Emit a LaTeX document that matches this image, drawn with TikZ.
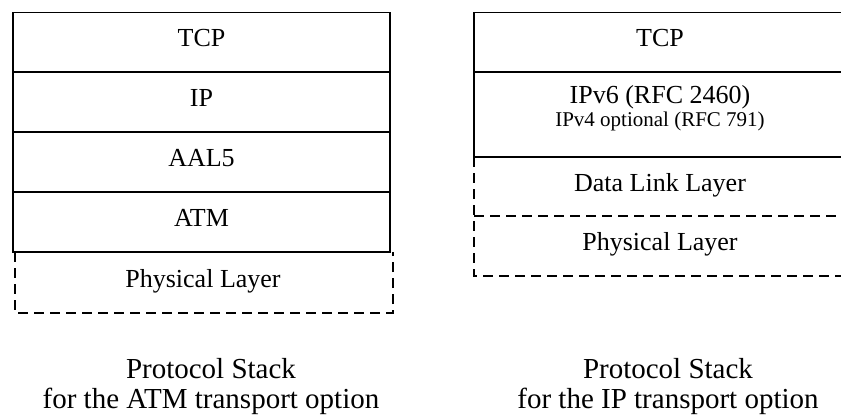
\documentclass[tikz,border=0pt]{standalone}
\usepackage{fontspec}
\setmainfont{Liberation Serif}
\begin{document}
\begin{tikzpicture}[x=1pt,y=-1pt,line width=1.2pt,
  solidline/.style={draw=black},
  dashline/.style={draw=black,dash pattern=on 10pt off 6pt},
  lay/.style={anchor=base,inner sep=0pt,font=\fontsize{26}{28}\selectfont},
  laysmall/.style={anchor=base,inner sep=0pt,font=\fontsize{21}{23}\selectfont},
  capt/.style={anchor=base,inner sep=0pt,font=\fontsize{29}{31}\selectfont}]
\useasboundingbox (0,0) rectangle (841,418);
% left stack
\coordinate (LTL) at (13,12.5);
\coordinate (LBR) at (390,252);
\draw[solidline] (LTL) rectangle (LBR);
\draw[solidline] (13,72) -- (390,72);
\draw[solidline] (13,132) -- (390,132);
\draw[solidline] (13,192) -- (390,192);
\draw[dashline] (15,252) -- (15,313) -- (393,313) -- (393,252);
\node[lay] (tcpA) at (201.5,46.5) {TCP};
\node[lay] (ipA) at (201.5,106.5) {IP};
\node[lay] (aalA) at (201.5,166.5) {AAL5};
\node[lay] (atmA) at (201.5,226.5) {ATM};
\node[lay] (phyA) at (203,287) {Physical Layer};
% right stack
\draw[solidline] (841,12.5) -- (474,12.5) -- (474,157) -- (841,157);
\draw[solidline] (474,72) -- (841,72);
\draw[dashline] (474,157) -- (474,276) -- (841,276);
\draw[dashline] (474,216) -- (841,216);
\node[lay] (tcpB) at (660,46.5) {TCP};
\node[lay] (ipB) at (660,103) {IPv6 (RFC 2460)};
\node[laysmall] (ipvB) at (660,126) {IPv4 optional (RFC 791)};
\node[lay] (dllB) at (660,191) {Data Link Layer};
\node[lay] (phyB) at (660,250.5) {Physical Layer};
% captions
\node[capt] (capA1) at (211,378) {Protocol Stack};
\node[capt] (capA2) at (211,408) {for the ATM transport option};
\node[capt] (capB1) at (668,378) {Protocol Stack};
\node[capt] (capB2) at (668,408) {for the IP transport option};
\end{tikzpicture}
\end{document}
